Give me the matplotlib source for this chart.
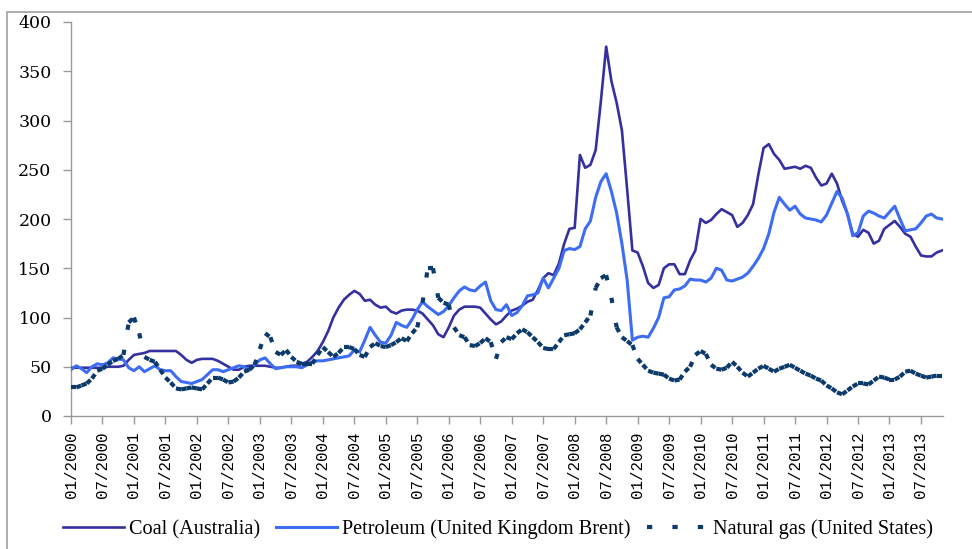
import matplotlib
matplotlib.use("Agg")
import matplotlib.pyplot as plt
from matplotlib.collections import LineCollection
from matplotlib.lines import Line2D
from matplotlib.patches import Rectangle
import numpy as np
import pandas as pd

plt.rcParams['lines.scale_dashes'] = False

# ---------------- data (monthly, 01/2000 .. 11/2013) ----------------
months = pd.date_range("2000-01-01", periods=167, freq="MS")

coal = [49, 49, 49, 49, 49, 49, 49, 50, 50, 50,
        51, 57, 62, 63, 64, 66, 66, 66, 66, 66,
        66, 62, 57, 54, 57, 58, 58, 58, 56, 53,
        50, 47, 47, 50, 51, 51, 51, 51, 50, 49,
        49, 50, 51, 51, 53, 55, 60, 66, 75, 86,
        100, 110, 118, 123, 127, 124, 117, 118, 113, 110,
        111, 106, 104, 107, 108, 108, 107, 104, 98, 92,
        83, 80, 90, 102, 108, 111, 111, 111, 110, 104,
        98, 93, 96, 102, 107, 109, 112, 116, 118, 128,
        140, 145, 143, 155, 175, 190, 191, 265, 252, 255,
        270, 320, 375, 340, 318, 290, 230, 168, 166, 152,
        135, 130, 133, 150, 154, 154, 144, 144, 158, 168,
        200, 196, 199, 205, 210, 207, 204, 192, 196, 204,
        215, 245, 272, 276, 266, 260, 251, 252, 253, 251,
        254, 252, 242, 234, 236, 246, 236, 218, 205, 185,
        182, 189, 186, 175, 178, 190, 194, 198, 192, 185,
        182, 172, 163, 162, 162, 166, 168]

petroleum = [47, 51, 48, 44, 50, 53, 52, 54, 59, 58,
             57, 49, 46, 50, 45, 48, 51, 47, 46, 46,
             40, 35, 34, 33, 35, 37, 42, 47, 47, 45,
             47, 49, 51, 50, 47, 52, 57, 59, 53, 48,
             49, 50, 50, 50, 49, 52, 55, 56, 56, 57,
             58, 59, 60, 61, 67, 65, 77, 90, 82, 75,
             74, 82, 95, 92, 90, 98, 108, 116, 111, 107,
             103, 106, 112, 120, 127, 131, 128, 127, 132, 136,
             117, 108, 107, 113, 102, 105, 112, 122, 123, 125,
             140, 130, 140, 150, 168, 170, 169, 172, 190, 198,
             222, 238, 246, 228, 206, 175, 138, 77, 80, 81,
             80, 89, 100, 120, 121, 128, 129, 132, 139, 138,
             138, 136, 140, 150, 148, 138, 137, 139, 141, 145,
             152, 160, 170, 185, 207, 222, 215, 209, 213, 205,
             201, 200, 199, 197, 204, 216, 228, 221, 205, 183,
             186, 203, 208, 206, 203, 201, 207, 213, 200, 188,
             189, 190, 196, 203, 205, 201, 200]

natural_gas = [29, 29, 31, 33, 38, 46, 48, 52, 56, 58,
               62, 95, 100, 84, 60, 57, 55, 47, 39, 34,
               28, 27, 28, 29, 28, 27, 33, 39, 39, 37,
               34, 35, 39, 45, 47, 52, 68, 84, 80, 65,
               62, 67, 60, 55, 53, 53, 53, 62, 70, 65,
               60, 64, 70, 70, 68, 62, 60, 70, 74, 71,
               70, 72, 75, 79, 76, 84, 90, 115, 150, 150,
               120, 115, 113, 90, 82, 80, 72, 71, 74, 79,
               75, 58, 75, 80, 78, 84, 88, 85, 80, 75,
               69, 68, 68, 75, 82, 83, 84, 88, 95, 102,
               130, 140, 143, 120, 90, 80, 76, 72, 58, 52,
               46, 44, 43, 42, 38, 36, 37, 45, 50, 62,
               66, 63, 52, 48, 47, 49, 55, 50, 44, 40,
               44, 48, 51, 48, 45, 48, 50, 52, 49, 46,
               43, 41, 38, 36, 31, 28, 24, 22, 26, 30,
               33, 33, 32, 36, 40, 39, 37, 37, 40, 45,
               46, 43, 41, 39, 40, 41, 41]

series_names = ["Coal (Australia)", "Petroleum (United Kingdom Brent)",
                "Natural gas (United States)"]
tick_positions = list(range(0, len(months), 6))
tick_labels = [months[i].strftime("%m/%Y") for i in tick_positions]
y_ticks = [0, 50, 100, 150, 200, 250, 300, 350, 400]

# ---------------- styling ----------------
c_coal = "#3530A0"
c_pet = "#3D6CF5"
c_gas = "#0B3A6B"
gas_dash = (0, (3.8, 14.5))

fig = plt.figure(figsize=(9.72, 5.49), dpi=100)
fig.patches.append(Rectangle((7 / 972, -0.05), 1.2, 1 - 12 / 549 + 0.05,
                             transform=fig.transFigure, fill=False,
                             edgecolor="#A0A0A0", linewidth=1.2))

ax = fig.add_axes([71 / 972, 1 - 416 / 549, (943 - 71) / 972, (416 - 22) / 549])
x = np.arange(len(months))

ax.plot(x, coal, color=c_coal, linewidth=1.9, solid_joinstyle="round", zorder=3)
ax.plot(x, petroleum, color=c_pet, linewidth=2.2, solid_joinstyle="round", zorder=4)

pts = np.column_stack([x, natural_gas])
segs = np.stack([pts[:-1], pts[1:]], axis=1)
lc = LineCollection(segs, colors=c_gas, linewidths=3.0, linestyles=[gas_dash],
                    capstyle="butt", zorder=5)
ax.add_collection(lc)

ax.set_xlim(0, 166.2)
ax.set_ylim(0, 400)
ax.set_yticks(y_ticks)
ax.set_yticklabels([str(v) for v in y_ticks], family="DejaVu Serif", fontsize=12.5)
ax.set_xticks(tick_positions)
ax.set_xticklabels(tick_labels, rotation=90, family="Liberation Mono", fontsize=11.3)

for s in ["top", "right"]:
    ax.spines[s].set_visible(False)
for s in ["left", "bottom"]:
    ax.spines[s].set_color("#9A9A9A")
    ax.spines[s].set_linewidth(1.0)
ax.tick_params(axis="both", direction="out", length=6, width=1.0, color="#9A9A9A",
               labelcolor="black")
ax.tick_params(axis="y", pad=8)
ax.tick_params(axis="x", pad=5)

handles = [Line2D([], [], color=c_coal, linewidth=1.9),
           Line2D([], [], color=c_pet, linewidth=2.2),
           Line2D([], [], color=c_gas, linewidth=3.0, linestyle=gas_dash,
                  dash_capstyle="butt")]
fig.legend(handles, series_names, loc="center", bbox_to_anchor=(0.512, 0.036),
           ncol=3, frameon=False, handlelength=3.0, handletextpad=0.25,
           columnspacing=0.8, prop={"family": "Liberation Serif", "size": 14.6})

fig.savefig("out.png", dpi=100)
